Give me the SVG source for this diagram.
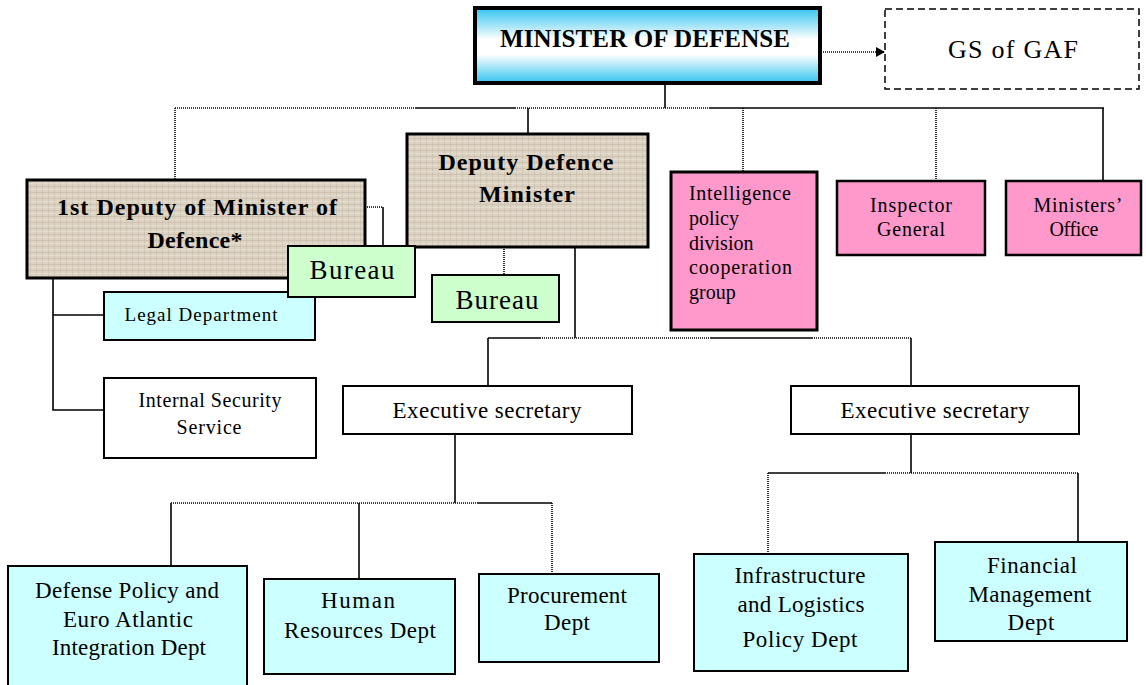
<svg xmlns="http://www.w3.org/2000/svg" width="1146" height="685" viewBox="0 0 1146 685">
<defs>
<linearGradient id="cyanGrad" x1="0" y1="0" x2="0" y2="1">
<stop offset="0" stop-color="#33c4f0"/>
<stop offset="0.42" stop-color="#ffffff"/>
<stop offset="0.62" stop-color="#ffffff"/>
<stop offset="1" stop-color="#33c4f0"/>
</linearGradient>
<pattern id="linen" width="6" height="6" patternUnits="userSpaceOnUse">
<rect width="6" height="6" fill="#ddd4c5"/>
<path d="M0 0.5H6M0.5 0V6" stroke="#c7bba7" stroke-width="1" opacity="0.7"/>
<path d="M0 3.5H6" stroke="#e8e1d5" stroke-width="1" opacity="0.6"/>
</pattern>
<marker id="arrow" markerWidth="10" markerHeight="10" refX="8" refY="5" orient="auto" markerUnits="userSpaceOnUse">
<path d="M0 0L9 5L0 10Z" fill="#000"/>
</marker>
<style>
.t{font-family:"Liberation Serif","Times New Roman",serif;fill:#000}
.b{font-weight:bold}
.m{text-anchor:middle}
.sol{stroke:#000;stroke-width:1.6;fill:none}
.dot{stroke:#000;stroke-width:1.6;fill:none;stroke-dasharray:1 1}
.box{stroke:#000;stroke-width:2}
.thick{stroke:#000;stroke-width:3}
.cyan{fill:#ccffff}
.green{fill:#ccffcc}
.pink{fill:#ff99cc}
.white{fill:#ffffff}
</style>
</defs>
<rect width="1146" height="685" fill="#ffffff"/>

<g id="connectors">
<line class="sol" x1="665" y1="83" x2="665" y2="108"/>
<line class="dot" x1="175" y1="108" x2="415" y2="108"/>
<line class="sol" x1="415" y1="108" x2="515" y2="108"/>
<line class="dot" x1="515" y1="108" x2="710" y2="108"/>
<line class="sol" x1="710" y1="108" x2="1104" y2="108"/>
<line class="dot" x1="175" y1="108" x2="175" y2="180"/>
<line class="sol" x1="528" y1="108" x2="528" y2="134"/>
<line class="dot" x1="743" y1="108" x2="743" y2="172"/>
<line class="dot" x1="936" y1="108" x2="936" y2="181"/>
<line class="sol" x1="1103" y1="108" x2="1103" y2="181"/>
<line class="dot" x1="365" y1="207" x2="383" y2="207"/>
<line class="sol" x1="383" y1="207" x2="383" y2="246"/>
<polyline class="sol" points="53,278 53,410 104,410"/>
<line class="sol" x1="53" y1="315" x2="104" y2="315"/>
<line class="dot" x1="504" y1="247" x2="504" y2="275"/>
<line class="sol" x1="575" y1="247" x2="575" y2="338"/>
<line class="sol" x1="488" y1="338" x2="540" y2="338"/>
<line class="dot" x1="540" y1="338" x2="711" y2="338"/>
<line class="sol" x1="711" y1="338" x2="812" y2="338"/>
<line class="dot" x1="812" y1="338" x2="911" y2="338"/>
<line class="sol" x1="488" y1="338" x2="488" y2="386"/>
<line class="sol" x1="911" y1="338" x2="911" y2="386"/>
<line class="sol" x1="455" y1="434" x2="455" y2="503"/>
<line class="dot" x1="171" y1="503" x2="478" y2="503"/>
<line class="sol" x1="478" y1="503" x2="552" y2="503"/>
<line class="sol" x1="171" y1="503" x2="171" y2="566"/>
<line class="sol" x1="359" y1="503" x2="359" y2="579"/>
<line class="dot" x1="552" y1="503" x2="552" y2="574"/>
<line class="sol" x1="911" y1="434" x2="911" y2="473"/>
<line class="sol" x1="768" y1="473" x2="885" y2="473"/>
<line class="dot" x1="885" y1="473" x2="1079" y2="473"/>
<line class="dot" x1="768" y1="473" x2="768" y2="554"/>
<line class="sol" x1="1078" y1="473" x2="1078" y2="542"/>
<line class="dot" x1="821" y1="52" x2="884" y2="52" marker-end="url(#arrow)"/>
</g>

<g id="minister">
<rect x="475" y="8" width="345" height="75" fill="url(#cyanGrad)" stroke="#000" stroke-width="4"/>
<text class="t b m" x="645" y="47" font-size="25" textLength="290" lengthAdjust="spacing">MINISTER OF DEFENSE</text>
</g>

<g id="gs-gaf">
<rect x="885" y="9" width="254" height="80" fill="#fff" stroke="#000" stroke-width="1.5" stroke-dasharray="7 4"/>
<text class="t m" x="1013" y="58" font-size="26" textLength="130" lengthAdjust="spacing">GS of GAF</text>
</g>

<g id="first-deputy">
<rect class="thick" x="27" y="180" width="338" height="98" fill="url(#linen)"/>
<text class="t b m" x="197" y="215" font-size="24" textLength="280" lengthAdjust="spacing">1st Deputy of Minister of</text>
<text class="t b m" x="195" y="248" font-size="24" textLength="95" lengthAdjust="spacing">Defence*</text>
</g>

<g id="deputy-defence">
<rect class="thick" x="407" y="134" width="241" height="113" fill="url(#linen)"/>
<text class="t b m" x="526" y="170" font-size="24" textLength="175" lengthAdjust="spacing">Deputy Defence</text>
<text class="t b m" x="527" y="202" font-size="24" textLength="96" lengthAdjust="spacing">Minister</text>
</g>

<g id="intelligence">
<rect class="pink" x="671" y="172" width="146" height="158" stroke="#000" stroke-width="3"/>
<text class="t" x="689" y="200" font-size="20" textLength="102" lengthAdjust="spacing">Intelligence</text>
<text class="t" x="689" y="225" font-size="20">policy</text>
<text class="t" x="689" y="250" font-size="20">division</text>
<text class="t" x="689" y="274" font-size="20" textLength="103" lengthAdjust="spacing">cooperation</text>
<text class="t" x="689" y="299" font-size="20">group</text>
</g>

<g id="inspector-general">
<rect class="pink" x="837" y="181" width="148" height="74" stroke="#000" stroke-width="2.5"/>
<text class="t m" x="911" y="212" font-size="20" textLength="82" lengthAdjust="spacing">Inspector</text>
<text class="t m" x="911" y="236" font-size="20" textLength="68" lengthAdjust="spacing">General</text>
</g>

<g id="ministers-office">
<rect class="pink" x="1006" y="181" width="135" height="74" stroke="#000" stroke-width="2.5"/>
<text class="t m" x="1078" y="212" font-size="20" textLength="89" lengthAdjust="spacing">Ministers’</text>
<text class="t m" x="1074" y="236" font-size="20" textLength="49" lengthAdjust="spacing">Office</text>
</g>

<g id="legal-department">
<rect class="box cyan" x="104" y="292" width="211" height="48"/>
<text class="t m" x="201" y="321" font-size="19" textLength="153" lengthAdjust="spacing">Legal Department</text>
</g>

<g id="bureau-1">
<rect class="box green" x="288" y="246" width="127" height="51"/>
<text class="t m" x="352" y="279" font-size="27" textLength="85" lengthAdjust="spacing">Bureau</text>
</g>

<g id="bureau-2">
<rect class="box green" x="432" y="275" width="127" height="47"/>
<text class="t m" x="497" y="309" font-size="27" textLength="83" lengthAdjust="spacing">Bureau</text>
</g>

<g id="internal-security">
<rect class="box white" x="104" y="378" width="212" height="80"/>
<text class="t m" x="210" y="407" font-size="20" textLength="143" lengthAdjust="spacing">Internal Security</text>
<text class="t m" x="209" y="434" font-size="20" textLength="65" lengthAdjust="spacing">Service</text>
</g>

<g id="exec-secretary-1">
<rect class="box white" x="343" y="386" width="289" height="48"/>
<text class="t m" x="487" y="418" font-size="23" textLength="189" lengthAdjust="spacing">Executive secretary</text>
</g>

<g id="exec-secretary-2">
<rect class="box white" x="791" y="386" width="288" height="48"/>
<text class="t m" x="935" y="418" font-size="23" textLength="189" lengthAdjust="spacing">Executive secretary</text>
</g>

<g id="defense-policy">
<rect class="box cyan" x="8" y="566" width="239" height="130"/>
<text class="t m" x="127" y="598" font-size="23" textLength="184" lengthAdjust="spacing">Defense Policy and</text>
<text class="t m" x="128" y="627" font-size="23" textLength="130" lengthAdjust="spacing">Euro Atlantic</text>
<text class="t m" x="129" y="655" font-size="23" textLength="154" lengthAdjust="spacing">Integration Dept</text>
</g>

<g id="human-resources">
<rect class="box cyan" x="264" y="579" width="191" height="95"/>
<text class="t m" x="358" y="608" font-size="23" textLength="74" lengthAdjust="spacing">Human</text>
<text class="t m" x="360" y="638" font-size="23" textLength="152" lengthAdjust="spacing">Resources Dept</text>
</g>

<g id="procurement">
<rect class="box cyan" x="479" y="574" width="180" height="88"/>
<text class="t m" x="567" y="603" font-size="23" textLength="120" lengthAdjust="spacing">Procurement</text>
<text class="t m" x="567" y="630" font-size="23" textLength="46" lengthAdjust="spacing">Dept</text>
</g>

<g id="infrastructure">
<rect class="box cyan" x="694" y="554" width="214" height="117"/>
<text class="t m" x="800" y="583" font-size="23" textLength="131" lengthAdjust="spacing">Infrastructure</text>
<text class="t m" x="801" y="612" font-size="23" textLength="127" lengthAdjust="spacing">and Logistics</text>
<text class="t m" x="800" y="647" font-size="23" textLength="115" lengthAdjust="spacing">Policy Dept</text>
</g>

<g id="financial-management">
<rect class="box cyan" x="935" y="542" width="192" height="99"/>
<text class="t m" x="1032" y="573" font-size="23" textLength="90" lengthAdjust="spacing">Financial</text>
<text class="t m" x="1030" y="602" font-size="23" textLength="123" lengthAdjust="spacing">Management</text>
<text class="t m" x="1031" y="630" font-size="23" textLength="47" lengthAdjust="spacing">Dept</text>
</g>
</svg>
